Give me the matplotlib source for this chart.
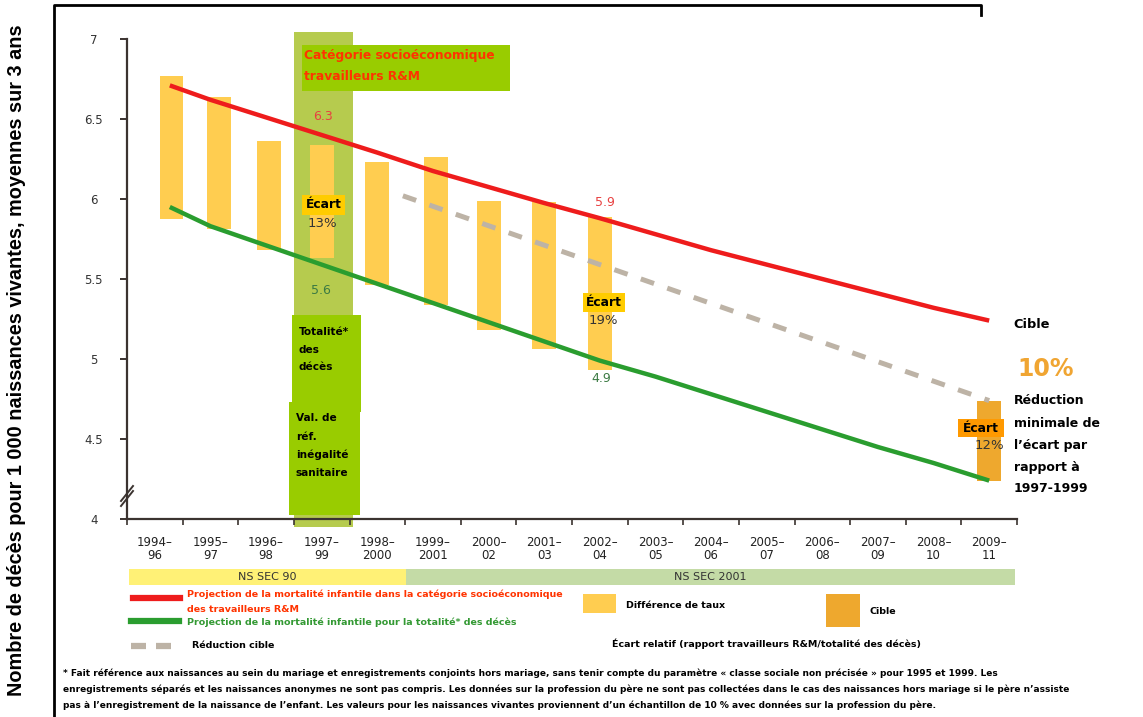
import matplotlib
matplotlib.use("Agg")
import matplotlib.pyplot as plt
from matplotlib.patches import Rectangle
from matplotlib.lines import Line2D

# ---------------- data ----------------
periods = ["1994–\n96", "1995–\n97", "1996–\n98", "1997–\n99", "1998–\n2000",
           "1999–\n2001", "2000–\n02", "2001–\n03", "2002–\n04", "2003–\n05",
           "2004–\n06", "2005–\n07", "2006–\n08", "2007–\n09", "2008–\n10", "2009–\n11"]

# gap bars (rate difference), top = R&M rate, bottom = overall rate
bar_pos = [0.3, 1.15, 2.05, 3.0, 4.0, 5.05, 6.0, 7.0, 8.0]
bar_top = [6.77, 6.64, 6.36, 6.34, 6.23, 6.26, 5.99, 5.98, 5.89]
bar_bottom = [5.875, 5.81, 5.68, 5.63, 5.46, 5.34, 5.18, 5.06, 4.93]

# target bar (2009-11)
target_pos = [15.0]
target_top = [4.74]
target_bottom = [4.24]

# projection lines
line_x = [0.27, 1, 2, 3, 4, 5, 6, 7, 8, 9, 10, 11, 12, 13, 14, 15]
red_vals = [6.71, 6.62, 6.51, 6.40, 6.29, 6.175, 6.075, 5.975, 5.88, 5.78, 5.68, 5.59,
            5.50, 5.41, 5.32, 5.24]
green_vals = [5.95, 5.83, 5.71, 5.59, 5.47, 5.35, 5.23, 5.11, 4.99, 4.89, 4.78, 4.67,
              4.56, 4.45, 4.35, 4.24]

# target reduction (dashed)
target_x = [4.46, 15.0]
target_vals = [6.02, 4.74]

yticks = [4, 4.5, 5, 5.5, 6, 6.5, 7]
ytick_labels = ["4", "4.5", "5", "5.5", "6", "6.5", "7"]

# ---------------- figure ----------------
W, H = 1143, 717
fig = plt.figure(figsize=(W / 100, H / 100), dpi=100)
fig.patch.set_facecolor("white")


def fx(px):
    return px / W


def fy(py):
    return 1 - py / H


def fbox(x0, y0, x1, y1, color, z=1):
    fig.patches.append(Rectangle((fx(x0), fy(y1)), fx(x1) - fx(x0), fy(y0) - fy(y1),
                                 transform=fig.transFigure, facecolor=color,
                                 edgecolor="none", zorder=z))


def fline(xs, ys, color="black", lw=2, **kw):
    fig.lines.append(Line2D([fx(x) for x in xs], [fy(y) for y in ys],
                            transform=fig.transFigure, color=color, linewidth=lw, **kw))


BOLD = dict(family="DejaVu Sans", fontweight="bold")

ax = fig.add_axes([fx(127), fy(519), fx(1017) - fx(127), fy(39) - fy(519)])
ax.set_facecolor("none")
ax.set_xlim(-0.5, 15.5)
ax.set_ylim(4, 7)

# highlighted 1997-99 column
ax.add_patch(Rectangle((2.5, 3.95), 1.06, 7.045 - 3.95, facecolor="#b6cb4e",
                       edgecolor="none", clip_on=False, zorder=0.5))

ax.bar(bar_pos, [t - b for t, b in zip(bar_top, bar_bottom)], bottom=bar_bottom,
       width=0.43, color="#ffcd50", zorder=2)
ax.bar(target_pos, [t - b for t, b in zip(target_top, target_bottom)],
       bottom=target_bottom, width=0.43, color="#eea82e", zorder=2)

ax.plot(line_x, red_vals, color="#ee1c1c", lw=3.2, zorder=3, solid_capstyle="butt")
ax.plot(line_x, green_vals, color="#2a9d2f", lw=3.2, zorder=3, solid_capstyle="butt")
ax.plot(target_x, target_vals, color="#bdb3a6", lw=3.6, zorder=3,
        dashes=(2.8, 2.8))

for s in ["top", "right"]:
    ax.spines[s].set_visible(False)
for s in ["left", "bottom"]:
    ax.spines[s].set_color("#3b3330")
    ax.spines[s].set_linewidth(1.6)

ax.set_yticks(yticks)
ax.set_yticklabels(ytick_labels)
ax.tick_params(axis="y", length=5, width=1.4, color="#3b3330", pad=19,
               labelsize=8.5, labelcolor="#333333")
for lbl in ax.get_yticklabels():
    lbl.set_horizontalalignment("center")

ax.set_xticks(range(len(periods)))
ax.set_xticklabels(periods, fontsize=8.5, color="#222222", linespacing=1.0)
ax.tick_params(axis="x", which="major", length=0, pad=12)
ax.set_xticks([i - 0.5 for i in range(len(periods) + 1)], minor=True)
ax.tick_params(axis="x", which="minor", length=4, width=1.2, color="#3b3330",
               direction="out")

# axis break mark
fline([121, 133], [506, 491], color="#3b3330", lw=1.4)
fline([121, 133], [501, 486], color="#3b3330", lw=1.4)

# ---------------- y label and frame ----------------
fig.text(fx(17), fy(360),
         "Nombre de décès pour 1 000 naissances vivantes, moyennes sur 3 ans",
         rotation=90, ha="center", va="center", fontsize=14.3,
         family="Liberation Sans", fontweight="bold")
fline([54, 54, 981, 981], [717, 5, 5, 15], color="black", lw=2)

# ---------------- annotation boxes ----------------
fbox(302, 45, 510, 91, "#99cc00")
fig.text(fx(304), fy(56), "Catégorie socioéconomique", color="#ff3300",
         fontsize=8.8, va="center", ha="left", **BOLD)
fig.text(fx(304), fy(77), "travailleurs R&M", color="#ff3300",
         fontsize=8.8, va="center", ha="left", **BOLD)

fbox(292, 315, 361, 412, "#99cc00")
for txt, yy in zip(["Totalité*", "des", "décès"], [332, 350, 367]):
    fig.text(fx(299), fy(yy), txt, fontsize=7.6, va="center", ha="left", **BOLD)

fbox(289, 402, 360, 515, "#99cc00")
for txt, yy in zip(["Val. de", "réf.", "inégalité", "sanitaire"], [418, 437, 455, 473]):
    fig.text(fx(296), fy(yy), txt, fontsize=7.6, va="center", ha="left", **BOLD)

# value labels
fig.text(fx(323), fy(116), "6.3", color="#e84040", fontsize=9, ha="center", va="center")
fig.text(fx(321), fy(290), "5.6", color="#3b7a43", fontsize=9, ha="center", va="center")
fig.text(fx(605), fy(202), "5.9", color="#e84040", fontsize=9, ha="center", va="center")
fig.text(fx(601), fy(378), "4.9", color="#3b7a43", fontsize=9, ha="center", va="center")

# gap labels
def ecart(x0, y0, x1, y1, bg, pct, px, py):
    fbox(x0, y0, x1, y1, bg, z=2)
    fig.text(fx((x0 + x1) / 2), fy((y0 + y1) / 2), "Écart", fontsize=8.8,
             ha="center", va="center", zorder=4, **BOLD)
    fig.text(fx(px), fy(py), pct, fontsize=9.5, color="#333333",
             ha="center", va="center", zorder=4)


ecart(302, 195, 345, 215, "#ffcc00", "13%", 322, 224)
ecart(583, 293, 625, 312, "#ffcc00", "19%", 603, 321)
ecart(958, 419, 1004, 437, "#ff9900", "12%", 989, 446)

# right side text
fig.text(fx(1013), fy(325), "Cible", fontsize=9.3, ha="left", va="center", **BOLD)
fig.text(fx(1017), fy(369), "10%", fontsize=17, color="#f0a532", ha="left",
         va="center", fontweight="bold")
for txt, yy in zip(["Réduction", "minimale de", "l’écart par", "rapport à", "1997-1999"],
                   [401, 423, 445, 467, 488]):
    fig.text(fx(1014), fy(yy), txt, fontsize=9.0, ha="left", va="center", **BOLD)

# ---------------- NS SEC bands ----------------
fbox(129, 569, 406, 585, "#fff176")
fbox(406, 569, 1015, 585, "#c4dba6")
fig.text(fx(267), fy(577), "NS SEC 90", fontsize=8, color="#333333", ha="center", va="center")
fig.text(fx(710), fy(577), "NS SEC 2001", fontsize=8, color="#333333", ha="center", va="center")

# ---------------- legend ----------------
fline([133, 180], [598, 598], color="#ee1c1c", lw=4.5)
fig.text(fx(187), fy(594), "Projection de la mortalité infantile dans la catégorie socioéconomique",
         color="#ff3300", fontsize=6.8, ha="left", va="center", **BOLD)
fig.text(fx(187), fy(609), "des travailleurs R&M", color="#ff3300", fontsize=6.8,
         ha="left", va="center", **BOLD)
fline([131, 179], [621, 621], color="#2a9d2f", lw=4.5)
fig.text(fx(187), fy(622), "Projection de la mortalité infantile pour la totalité* des décès",
         color="#339933", fontsize=6.8, ha="left", va="center", **BOLD)
fline([131, 180], [646, 646], color="#bdb3a6", lw=4.5, dashes=(2.4, 1.6))
fig.text(fx(192), fy(646), "Réduction cible", fontsize=6.8, ha="left", va="center", **BOLD)

fbox(583, 594, 616, 613, "#ffcd50")
fig.text(fx(626), fy(605), "Différence de taux", fontsize=6.8, ha="left", va="center", **BOLD)
fbox(826, 594, 860, 627, "#eea82e")
fig.text(fx(869), fy(611), "Cible", fontsize=6.8, ha="left", va="center", **BOLD)
fig.text(fx(612), fy(644), "Écart relatif (rapport travailleurs R&M/totalité des décès)",
         fontsize=6.8, ha="left", va="center", **BOLD)

# ---------------- footnote ----------------
foot = [
    "* Fait référence aux naissances au sein du mariage et enregistrements conjoints hors mariage, sans tenir compte du paramètre « classe sociale non précisée » pour 1995 et 1999. Les",
    "enregistrements séparés et les naissances anonymes ne sont pas compris. Les données sur la profession du père ne sont pas collectées dans le cas des naissances hors mariage si le père n’assiste",
    "pas à l’enregistrement de la naissance de l’enfant. Les valeurs pour les naissances vivantes proviennent d’un échantillon de 10 % avec données sur la profession du père.",
]
for txt, yy in zip(foot, [673, 689, 705]):
    fig.text(fx(63), fy(yy), txt, fontsize=6.5, ha="left", va="center", **BOLD)

fig.savefig("out.png", dpi=100)
